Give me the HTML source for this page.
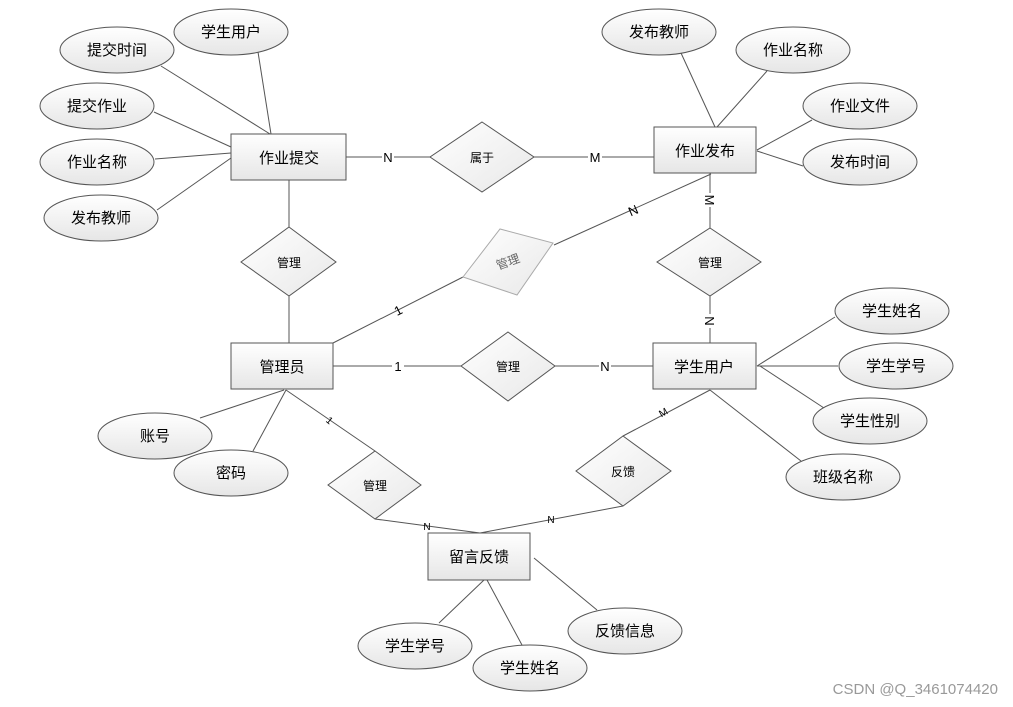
<!DOCTYPE html>
<html><head><meta charset="utf-8"><style>
html,body{margin:0;padding:0;background:#fff;}
svg{display:block;}
text{font-family:"Liberation Sans","Noto Sans CJK SC",sans-serif;fill:#000;}
</style></head><body>
<svg width="1013" height="707" viewBox="0 0 1013 707" xmlns="http://www.w3.org/2000/svg">
<defs>
<linearGradient id="g" x1="0" y1="0" x2="0" y2="1"><stop offset="0" stop-color="#ffffff"/><stop offset="1" stop-color="#e6e6e6"/></linearGradient>
<linearGradient id="gr" x1="0" y1="0" x2="1" y2="1"><stop offset="0" stop-color="#ffffff"/><stop offset="1" stop-color="#e8e8e8"/></linearGradient>
</defs>
<g stroke="#555" stroke-width="1" fill="none">
<!-- 作业提交 attrs -->
<line x1="258" y1="52" x2="271" y2="134"/>
<line x1="161" y1="66" x2="270" y2="134"/>
<line x1="154" y1="112" x2="231" y2="147"/>
<line x1="155" y1="159" x2="231" y2="153"/>
<line x1="157" y1="210" x2="231" y2="158"/>
<line x1="346" y1="157" x2="430" y2="157"/>
<line x1="534" y1="157" x2="654" y2="157"/>
<line x1="289" y1="180" x2="289" y2="227"/>
<line x1="289" y1="296" x2="289" y2="343"/>
<line x1="333" y1="343" x2="463" y2="277"/>
<!-- 作业发布 attrs -->
<line x1="681" y1="53" x2="715" y2="127"/>
<line x1="767" y1="71" x2="717" y2="127"/>
<line x1="812" y1="120" x2="757" y2="150"/>
<line x1="803" y1="166" x2="757" y2="151"/>
<line x1="710" y1="173" x2="710" y2="228"/>
<line x1="710" y1="296" x2="710" y2="343"/>
<line x1="711" y1="174" x2="554" y2="245"/>
<!-- middle -->
<line x1="333" y1="366" x2="461" y2="366"/>
<line x1="555" y1="366" x2="653" y2="366"/>
<!-- 学生用户 attrs -->
<line x1="757" y1="366" x2="835" y2="317"/>
<line x1="757" y1="366" x2="838" y2="366"/>
<line x1="760" y1="366" x2="824" y2="408"/>
<line x1="710" y1="390" x2="801" y2="461"/>
<!-- 管理员 attrs -->
<line x1="284" y1="390" x2="200" y2="418"/>
<line x1="286" y1="390" x2="253" y2="451"/>
<line x1="286" y1="390" x2="375" y2="451"/>
<line x1="375" y1="519" x2="480" y2="533"/>
<line x1="710" y1="390" x2="623" y2="436"/>
<line x1="623" y1="506" x2="480" y2="533"/>
<!-- 留言反馈 attrs -->
<line x1="484" y1="580" x2="439" y2="623"/>
<line x1="487" y1="580" x2="522" y2="645"/>
<line x1="534" y1="558" x2="597" y2="610"/>
</g>
<!-- labels on lines -->
<g font-size="13">
<rect x="382" y="149" width="12" height="16" fill="#fff"/><text x="388" y="162" text-anchor="middle">N</text>
<rect x="588" y="149" width="14" height="16" fill="#fff"/><text x="595" y="162" text-anchor="middle">M</text>
<rect x="392" y="358" width="12" height="16" fill="#fff"/><text x="398" y="371" text-anchor="middle">1</text>
<rect x="599" y="358" width="12" height="16" fill="#fff"/><text x="605" y="371" text-anchor="middle">N</text>
<text x="398" y="315" text-anchor="middle" transform="rotate(-27 398 310)">1</text>
<text x="633" y="215" text-anchor="middle" transform="rotate(-24 633 210)">N</text>
<rect x="703" y="193" width="14" height="14" fill="#fff"/><text x="710" y="205" text-anchor="middle" transform="rotate(90 710 200)">M</text>
<rect x="703" y="314" width="14" height="14" fill="#fff"/><text x="710" y="326" text-anchor="middle" transform="rotate(90 710 321)">N</text>
</g>
<g font-size="10">
<text x="330" y="424" text-anchor="middle" transform="rotate(40 330 420)">1</text>
<text x="663" y="416" text-anchor="middle" transform="rotate(-30 663 412)">M</text>
<text x="427" y="530" text-anchor="middle">N</text>
<text x="551" y="523" text-anchor="middle">N</text>
</g>
<!-- entities -->
<g stroke="#555" fill="url(#g)">
<rect x="231" y="134" width="115" height="46"/>
<rect x="654" y="127" width="102" height="46"/>
<rect x="231" y="343" width="102" height="46"/>
<rect x="653" y="343" width="103" height="46"/>
<rect x="428" y="533" width="102" height="47"/>
</g>
<g font-size="15" text-anchor="middle">
<text x="289" y="163">作业提交</text>
<text x="705" y="156">作业发布</text>
<text x="282" y="372">管理员</text>
<text x="704" y="372">学生用户</text>
<text x="479" y="562">留言反馈</text>
</g>
<!-- diamonds -->
<g stroke="#555" fill="url(#gr)">
<polygon points="482,122 534,157 482,192 430,157"/>
<polygon points="289,227 336,262 289,296 241,262"/>
<polygon points="710,228 761,262 710,296 657,262"/>
<polygon points="508,332 555,366 508,401 461,366"/>
<polygon points="375,451 421,485 375,519 328,485"/>
<polygon points="623,436 671,471 623,506 576,471"/>
<polygon points="463,277 500,229 553,243 517,295" stroke="#aaa"/>
</g>
<g font-size="12" text-anchor="middle">
<text x="482" y="162">属于</text>
<text x="289" y="267">管理</text>
<text x="710" y="267">管理</text>
<text x="508" y="371">管理</text>
<text x="375" y="490">管理</text>
<text x="623" y="476">反馈</text>
<text x="508" y="266" fill="#666" style="fill:#666" transform="rotate(-20 508 262)">管理</text>
</g>
<!-- attributes -->
<g stroke="#555" fill="url(#g)">
<ellipse cx="231" cy="32" rx="57" ry="23"/>
<ellipse cx="117" cy="50" rx="57" ry="23"/>
<ellipse cx="97" cy="106" rx="57" ry="23"/>
<ellipse cx="97" cy="162" rx="57" ry="23"/>
<ellipse cx="101" cy="218" rx="57" ry="23"/>
<ellipse cx="659" cy="32" rx="57" ry="23"/>
<ellipse cx="793" cy="50" rx="57" ry="23"/>
<ellipse cx="860" cy="106" rx="57" ry="23"/>
<ellipse cx="860" cy="162" rx="57" ry="23"/>
<ellipse cx="892" cy="311" rx="57" ry="23"/>
<ellipse cx="896" cy="366" rx="57" ry="23"/>
<ellipse cx="870" cy="421" rx="57" ry="23"/>
<ellipse cx="843" cy="477" rx="57" ry="23"/>
<ellipse cx="155" cy="436" rx="57" ry="23"/>
<ellipse cx="231" cy="473" rx="57" ry="23"/>
<ellipse cx="415" cy="646" rx="57" ry="23"/>
<ellipse cx="530" cy="668" rx="57" ry="23"/>
<ellipse cx="625" cy="631" rx="57" ry="23"/>
</g>
<g font-size="15" text-anchor="middle">
<text x="231" y="37">学生用户</text>
<text x="117" y="55">提交时间</text>
<text x="97" y="111">提交作业</text>
<text x="97" y="167">作业名称</text>
<text x="101" y="223">发布教师</text>
<text x="659" y="37">发布教师</text>
<text x="793" y="55">作业名称</text>
<text x="860" y="111">作业文件</text>
<text x="860" y="167">发布时间</text>
<text x="892" y="316">学生姓名</text>
<text x="896" y="371">学生学号</text>
<text x="870" y="426">学生性别</text>
<text x="843" y="482">班级名称</text>
<text x="155" y="441">账号</text>
<text x="231" y="478">密码</text>
<text x="415" y="651">学生学号</text>
<text x="530" y="673">学生姓名</text>
<text x="625" y="636">反馈信息</text>
</g>
<text x="998" y="694" font-size="15" text-anchor="end" style="fill:#999">CSDN @Q_3461074420</text>
</svg>
</body></html>
